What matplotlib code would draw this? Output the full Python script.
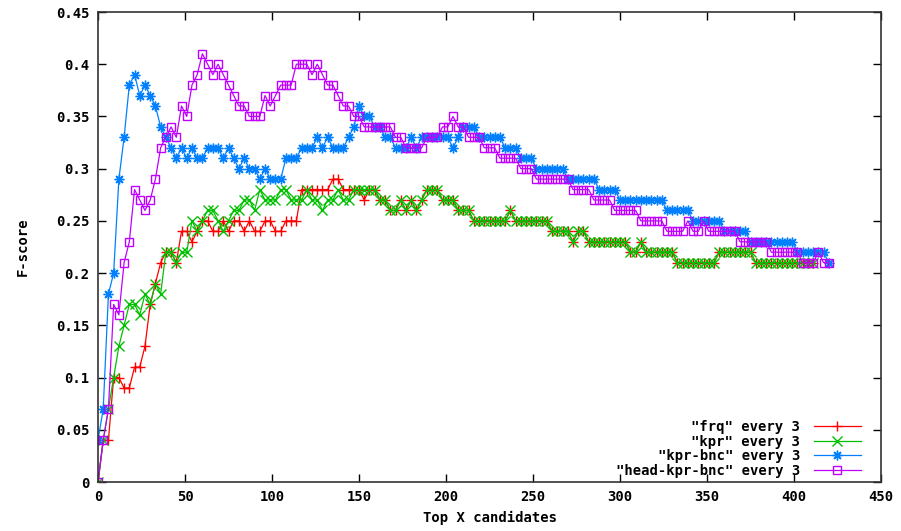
import numpy as np
import matplotlib
matplotlib.use("Agg")
import matplotlib.pyplot as plt

# ---- data (F-score at every 3rd candidate, starting at 0) ----
frq = [0.00, 0.04, 0.04, 0.10, 0.10, 0.09, 0.09, 0.11, 0.11, 0.13,
       0.17, 0.19, 0.21, 0.22, 0.22, 0.21, 0.24, 0.24, 0.23, 0.24,
       0.25, 0.25, 0.24, 0.24, 0.25, 0.24, 0.25, 0.25, 0.24, 0.25,
       0.24, 0.24, 0.25, 0.25, 0.24, 0.24, 0.25, 0.25, 0.25, 0.28,
       0.28, 0.28, 0.28, 0.28, 0.28, 0.29, 0.29, 0.28, 0.28, 0.28,
       0.28, 0.27, 0.28, 0.28,
       0.27, 0.27, 0.26, 0.26, 0.27, 0.26, 0.27, 0.26, 0.27, 0.28, 0.28, 0.28, 0.27, 0.27, 0.27, 0.26, 0.26, 0.26,
       0.25, 0.25, 0.25, 0.25, 0.25, 0.25, 0.25, 0.26, 0.25, 0.25, 0.25, 0.25, 0.25, 0.25, 0.25,
       0.24, 0.24, 0.24, 0.24, 0.23, 0.24, 0.24,
       0.23, 0.23, 0.23, 0.23, 0.23, 0.23, 0.23, 0.23,
       0.22, 0.22, 0.23, 0.22, 0.22, 0.22, 0.22, 0.22, 0.22,
       0.21, 0.21, 0.21, 0.21, 0.21, 0.21, 0.21, 0.21,
       0.22, 0.22, 0.22, 0.22, 0.22, 0.22, 0.22,
       0.21, 0.21, 0.21, 0.21, 0.21, 0.21, 0.21, 0.21, 0.21, 0.21, 0.21, 0.21]

kpr = [0.00, 0.04, 0.07, 0.10, 0.13, 0.15, 0.17, 0.17, 0.16, 0.18,
       0.17, 0.19, 0.18, 0.22, 0.22, 0.21, 0.22, 0.22, 0.25, 0.24,
       0.25, 0.26, 0.26, 0.25, 0.24, 0.25, 0.26, 0.26, 0.27, 0.27,
       0.26, 0.28, 0.27, 0.27, 0.27, 0.28, 0.28, 0.27, 0.27, 0.27,
       0.28, 0.27, 0.27, 0.26, 0.27, 0.27, 0.28, 0.27, 0.27, 0.28,
       0.28, 0.28, 0.28, 0.28,
       0.27, 0.27, 0.26, 0.26, 0.27, 0.26, 0.27, 0.26, 0.27, 0.28, 0.28, 0.28, 0.27, 0.27, 0.27, 0.26, 0.26, 0.26,
       0.25, 0.25, 0.25, 0.25, 0.25, 0.25, 0.25, 0.26, 0.25, 0.25, 0.25, 0.25, 0.25, 0.25, 0.25,
       0.24, 0.24, 0.24, 0.24, 0.23, 0.24, 0.24,
       0.23, 0.23, 0.23, 0.23, 0.23, 0.23, 0.23, 0.23,
       0.22, 0.22, 0.23, 0.22, 0.22, 0.22, 0.22, 0.22, 0.22,
       0.21, 0.21, 0.21, 0.21, 0.21, 0.21, 0.21, 0.21,
       0.22, 0.22, 0.22, 0.22, 0.22, 0.22, 0.22,
       0.21, 0.21, 0.21, 0.21, 0.21, 0.21, 0.21, 0.21, 0.21, 0.21, 0.21, 0.21]

kpr_bnc = [0.04, 0.07, 0.18, 0.20, 0.29, 0.33, 0.38, 0.39, 0.37, 0.38,
           0.37, 0.36, 0.34, 0.33, 0.32, 0.31, 0.32, 0.31, 0.32, 0.31,
           0.31, 0.32, 0.32, 0.32, 0.31, 0.32, 0.31, 0.30, 0.31, 0.30,
           0.30, 0.29, 0.30, 0.29, 0.29, 0.29, 0.31, 0.31, 0.31, 0.32,
           0.32, 0.32, 0.33, 0.32, 0.33, 0.32, 0.32, 0.32, 0.33, 0.34,
           0.36, 0.35, 0.35, 0.34, 0.34, 0.33, 0.33, 0.32, 0.32, 0.32,
           0.33, 0.32, 0.33, 0.33, 0.33, 0.33, 0.33, 0.33, 0.32, 0.33,
           0.34, 0.34, 0.34, 0.33, 0.33, 0.33, 0.33, 0.33, 0.32, 0.32,
           0.32, 0.31, 0.31, 0.31, 0.30, 0.30, 0.30, 0.30, 0.30, 0.30,
           0.29, 0.29, 0.29, 0.29, 0.29, 0.29, 0.28, 0.28, 0.28, 0.28,
           0.27, 0.27, 0.27, 0.27, 0.27, 0.27, 0.27, 0.27, 0.27, 0.26,
           0.26, 0.26, 0.26, 0.26, 0.25, 0.25, 0.25, 0.25, 0.25, 0.25,
           0.24, 0.24, 0.24, 0.24, 0.24, 0.23, 0.23, 0.23, 0.23, 0.23,
           0.23, 0.23, 0.23, 0.23, 0.22, 0.22, 0.22, 0.22, 0.22, 0.22,
           0.21]

head_kpr_bnc = [0.00, 0.04, 0.07, 0.17, 0.16, 0.21, 0.23, 0.28, 0.27, 0.26,
                0.27, 0.29, 0.32, 0.33, 0.34, 0.33, 0.36, 0.35, 0.38, 0.39,
                0.41, 0.40, 0.39, 0.40, 0.39, 0.38, 0.37, 0.36, 0.36, 0.35,
                0.35, 0.35, 0.37, 0.36, 0.37, 0.38, 0.38, 0.38, 0.40, 0.40,
                0.40, 0.39, 0.40, 0.39, 0.38, 0.38, 0.37, 0.36, 0.36, 0.35,
                0.35, 0.34, 0.34, 0.34, 0.34, 0.34, 0.34, 0.33, 0.33, 0.32,
                0.32, 0.32, 0.32, 0.33, 0.33, 0.33, 0.34, 0.34, 0.35, 0.34,
                0.34, 0.33, 0.33, 0.33, 0.32, 0.32, 0.32, 0.31, 0.31, 0.31,
                0.31, 0.30, 0.30, 0.30, 0.29, 0.29, 0.29, 0.29, 0.29, 0.29,
                0.29, 0.28, 0.28, 0.28, 0.28, 0.27, 0.27, 0.27, 0.27, 0.26,
                0.26, 0.26, 0.26, 0.26, 0.25, 0.25, 0.25, 0.25, 0.25, 0.24,
                0.24, 0.24, 0.24, 0.25, 0.24, 0.24, 0.25, 0.24, 0.24, 0.24,
                0.24, 0.24, 0.24, 0.23, 0.23, 0.23, 0.23, 0.23, 0.23, 0.22,
                0.22, 0.22, 0.22, 0.22, 0.22, 0.21, 0.21, 0.21, 0.22, 0.21,
                0.21]

step = 3
labels = ['"frq" every 3', '"kpr" every 3', '"kpr-bnc" every 3', '"head-kpr-bnc" every 3']
colors = ["#ff0000", "#00c000", "#0080ff", "#c000ff"]
markers = ["+", "x", (8, 2, 0), "s"]
x_ticks = [0, 50, 100, 150, 200, 250, 300, 350, 400, 450]
y_ticks = [0, 0.05, 0.1, 0.15, 0.2, 0.25, 0.3, 0.35, 0.4, 0.45]
y_ticklabels = ["0", "0.05", "0.1", "0.15", "0.2", "0.25", "0.3", "0.35", "0.4", "0.45"]
x_label = "Top X candidates"
y_label = "F-score"

FONT = {"family": "DejaVu Sans Mono", "weight": "bold", "size": 10}

fig = plt.figure(figsize=(9.01, 5.31), dpi=100)
ax = fig.add_axes([98 / 901, 1 - 482 / 531, (881 - 98) / 901, (482 - 12) / 531])

series = [frq, kpr, kpr_bnc, head_kpr_bnc]
for vals, lab, col, mk in zip(series, labels, colors, markers):
    xs = np.arange(len(vals)) * step
    kw = dict(marker=mk, markersize=7, markeredgewidth=1.0, linewidth=0.9, color=col, label=lab)
    if mk == "s":
        kw.update(markerfacecolor="none", markersize=5.5)
    ax.plot(xs, vals, **kw)

ax.set_xlim(0, 450)
ax.set_ylim(0, 0.45)
ax.set_xticks(x_ticks)
ax.set_xticklabels([str(t) for t in x_ticks], fontdict=FONT)
ax.set_yticks(y_ticks)
ax.set_yticklabels(y_ticklabels, fontdict=FONT)
ax.tick_params(direction="in", length=6, width=1, top=True, right=True,
               labeltop=False, labelright=False, pad=6)
for s in ax.spines.values():
    s.set_linewidth(1.2)
    s.set_color("#333333")

ax.set_xlabel(x_label, fontdict=FONT, labelpad=5)
ax.set_ylabel(y_label, fontdict=FONT, labelpad=19)

leg = ax.legend(loc="lower right", bbox_to_anchor=(0.987, -0.012), frameon=False,
                markerfirst=False, handlelength=3.4, handletextpad=1.0,
                labelspacing=0.05, borderaxespad=0.3,
                prop={"family": "DejaVu Sans Mono", "weight": "bold", "size": 10})

fig.savefig("out.png", dpi=100)
